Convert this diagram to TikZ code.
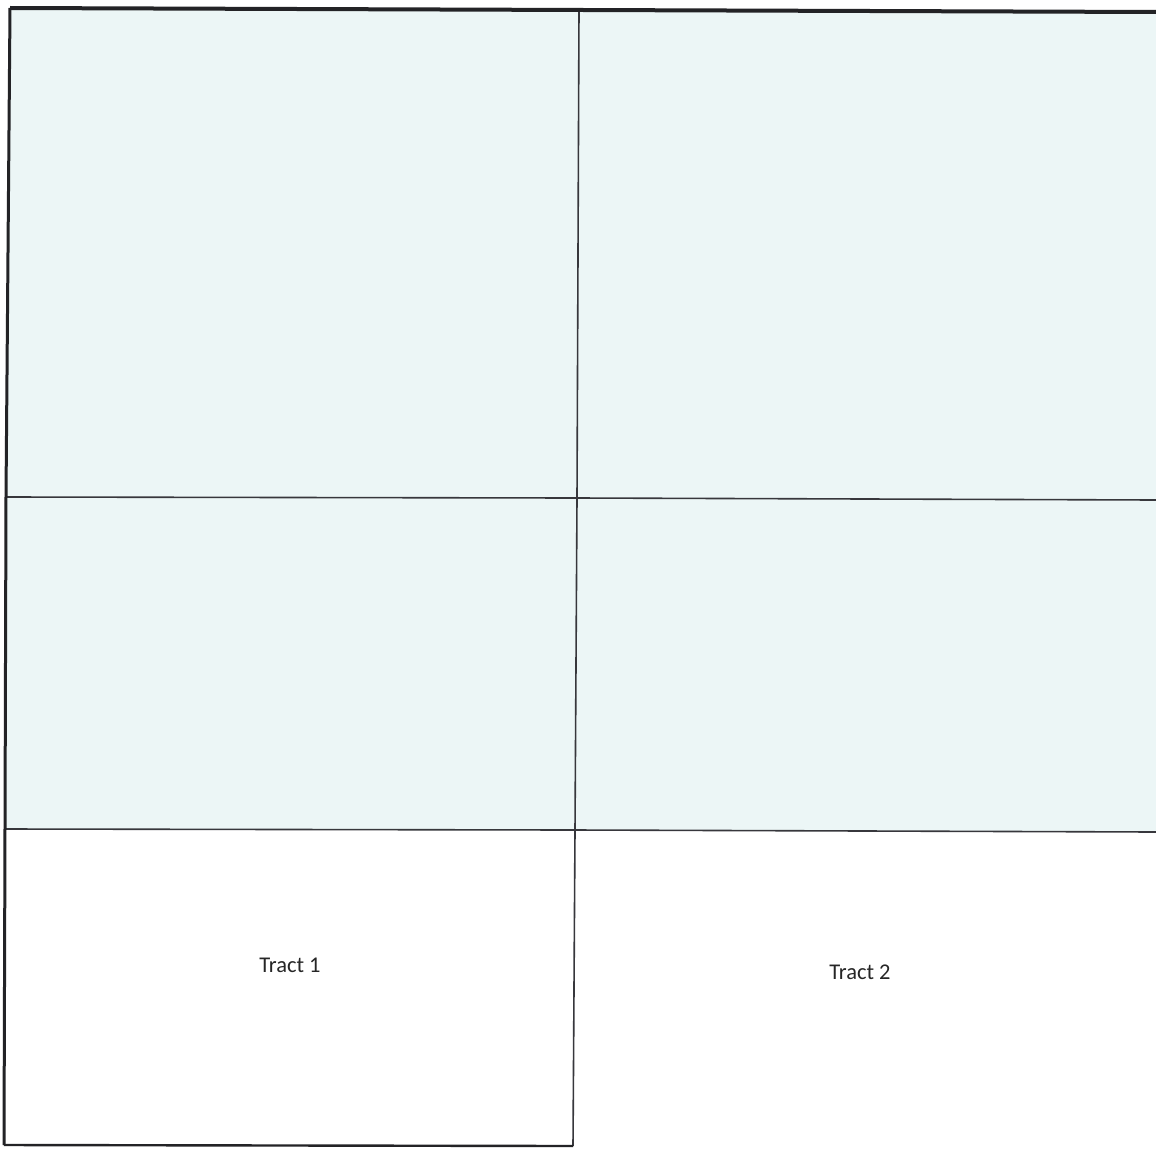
\documentclass[tikz,border=0pt]{standalone}
\usepackage{fontspec}
\setmainfont{Carlito}
\definecolor{cellblue}{RGB}{236,246,246}
\definecolor{framegray}{RGB}{35,35,38}
\definecolor{linegray}{RGB}{55,55,60}
\begin{document}
\begin{tikzpicture}[x=1pt,y=-1pt,
  outer/.style={draw=framegray,line width=3pt},
  inner/.style={draw=linegray,line width=1.6pt},
  lbl/.style={font=\fontsize{22.5}{26}\selectfont,text=black!85}]
\useasboundingbox (0,0) rectangle (1156,1148);
\fill[white] (0,0) rectangle (1156,1148);
% corner coordinates
\coordinate (TL) at (10,8);
\coordinate (TR) at (1156,12);
\coordinate (TM) at (579,9);
\coordinate (L1) at (6,497);
\coordinate (M1) at (577,498);
\coordinate (R1) at (1156,500);
\coordinate (L2) at (5,829);
\coordinate (M2) at (575,830);
\coordinate (R2) at (1156,832);
\coordinate (BL) at (4,1145);
\coordinate (BM) at (573,1146);
% blue fill of the two upper rows
\fill[cellblue] (TL) -- (TR) -- (R2) -- (L2) -- cycle;
% grid lines
\draw[inner] (L1) -- (M1) -- (R1);
\draw[inner] (L2) -- (M2) -- (R2);
\draw[inner] (TM) -- (M1) -- (M2) -- (BM);
\draw[outer,line width=2.4pt] (BL) -- (BM);
\draw[outer] (TL) -- (L1) -- (L2) -- (BL);
\draw[outer,line width=4pt] (TL) -- (TR);
% labels
\node[lbl] (t1) at (290,965) {Tract 1};
\node[lbl] (t2) at (860,972) {Tract 2};
\end{tikzpicture}
\end{document}
